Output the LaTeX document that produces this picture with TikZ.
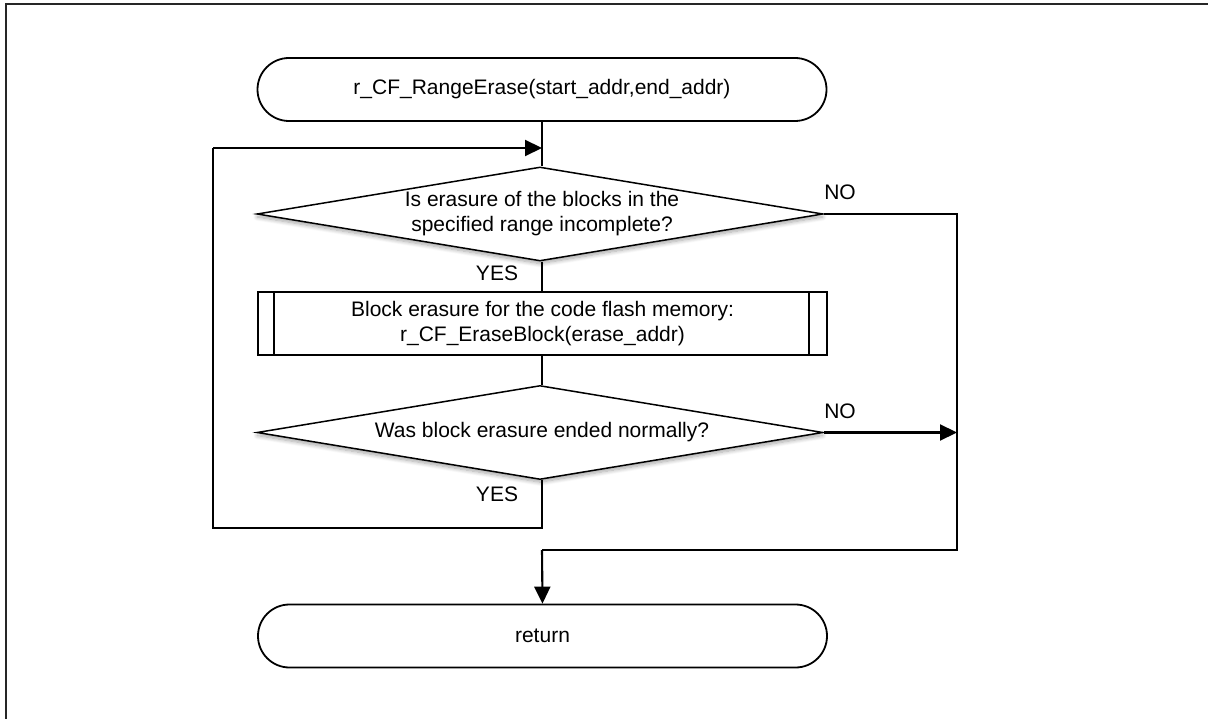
\documentclass[tikz,border=0pt]{standalone}
\usepackage{fontspec}
\setmainfont{Liberation Sans}
\usetikzlibrary{shapes.geometric,shapes.misc,arrows.meta,shadows.blur}
\begin{document}
\begin{tikzpicture}[x=1pt,y=-1pt,
  every node/.style={font=\fontsize{21}{25}\selectfont},
  term/.style={rounded rectangle, draw, line width=1.8pt, minimum width=569pt, minimum height=63pt, inner sep=0pt, fill=white},
  decision/.style={diamond, draw, line width=1.5pt, minimum width=566pt, minimum height=94pt, inner sep=0pt, fill=white,
    blur shadow={shadow xshift=0pt, shadow yshift=-3pt, shadow blur radius=4pt, shadow opacity=35, shadow blur steps=8}},
  subproc/.style={rectangle, draw, line width=1.6pt, minimum width=569pt, minimum height=63pt, inner sep=0pt, align=center},
  flow/.style={line width=2.1pt},
  arr/.style={flow, -{Triangle[length=17pt,width=16pt]}},
  lbl/.style={inner sep=0pt, align=center}
]
\useasboundingbox (0,0) rectangle (1208,719);
% outer frame (top and left edges)
\draw[line width=2pt, black!85] (6,719) -- (6,4) -- (1208,4);

% flow nodes
\node[term] (start) at (542,89.5) {r\_CF\_RangeErase(start\_addr,end\_addr)};
\node[decision] (d1) at (540,214) {};
\node[lbl] (d1t) at (542,214) {Is erasure of the blocks in the\\specified range incomplete?};
\node[subproc] (proc) at (542.5,323.5) {Block erasure for the code flash memory:\\r\_CF\_EraseBlock(erase\_addr)};
\draw[line width=1.6pt] ([xshift=17pt]proc.north west) -- ([xshift=17pt]proc.south west)
                        ([xshift=-19pt]proc.north east) -- ([xshift=-19pt]proc.south east);
\node[decision] (d2) at (540,432.5) {};
\node[lbl] (d2t) at (542,432.5) {Was block erasure ended normally?};
\node[term] (ret) at (542.5,636) {return};

% branch labels
\node[lbl] (no1) at (840,192) {NO};
\node[lbl] (yes1) at (497,273) {YES};
\node[lbl] (no2) at (840,411) {NO};
\node[lbl] (yes2) at (497,494) {YES};

% bend points
\coordinate (join) at (542,148);
\coordinate (loopA) at (542,528);
\coordinate (loopB) at (213,528);
\coordinate (loopC) at (213,148);
\coordinate (rightTop) at (957,214);
\coordinate (rightMid) at (957,432.5);
\coordinate (rightBot) at (957,550);
\coordinate (retIn) at (542,550);

% connectors
\draw[flow] (start.south -| d1t) -- (d1.north -| d1t);
\draw[flow] (d1.south -| d1t) -- (proc.north -| d1t);
\draw[flow] (proc.south -| d1t) -- (d2.north -| d1t);
\draw[flow] (d2.south -| d2t) -- (loopA) -- (loopB) -- (loopC);
\draw[arr] (loopC) -- (join);
\draw[flow] (d1.east) -- (rightTop) -- (rightBot) -- (retIn);
\draw[arr] (retIn) -- (ret.north);
\draw[arr] (d2.east) -- (rightMid);
\end{tikzpicture}
\end{document}
